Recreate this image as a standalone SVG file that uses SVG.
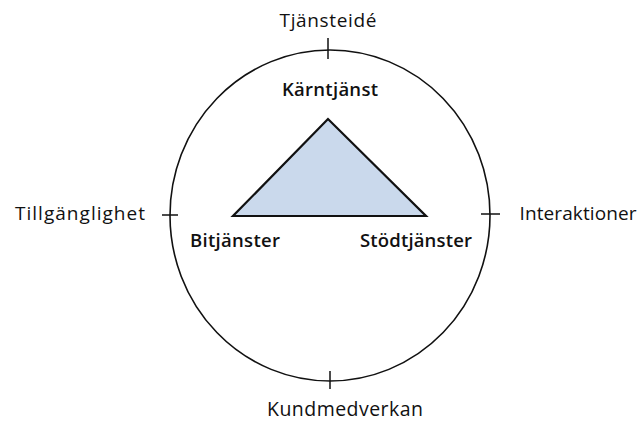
<svg xmlns="http://www.w3.org/2000/svg" width="639" height="421" viewBox="0 0 639 421">
<style>
text{font-family:"Open Sans","DejaVu Sans",sans-serif;font-size:19px;fill:#111;text-anchor:middle}
.in{font-weight:600;font-size:18.5px}
.tick{stroke:#111;stroke-width:1.5;fill:none}
</style>
<rect width="639" height="421" fill="#fff"/>
<g id="circle">
<ellipse cx="330" cy="215.5" rx="160" ry="165.5" fill="none" stroke="#111" stroke-width="1.6"/>
</g>
<g id="connectors">
<line class="tick" x1="328" y1="38" x2="328" y2="59"/>
<line class="tick" x1="330" y1="371" x2="330" y2="389"/>
<line class="tick" x1="162" y1="215" x2="178" y2="215"/>
<line class="tick" x1="481" y1="214" x2="500" y2="214"/>
</g>
<g id="triangle">
<polygon points="328,119 233,216 426,216" fill="#cad9ec" stroke="#111" stroke-width="2.2" stroke-linejoin="miter"/>
</g>
<g id="tjansteide"><text x="328" y="27" textLength="97">Tjänsteidé</text></g>
<g id="karntjanst"><text class="in" x="330" y="96" textLength="96">Kärntjänst</text></g>
<g id="bitjanster"><text class="in" x="235" y="247" textLength="90">Bitjänster</text></g>
<g id="stodtjanster"><text class="in" x="416" y="247" textLength="112">Stödtjänster</text></g>
<g id="tillganglighet"><text x="80" y="220" textLength="130">Tillgänglighet</text></g>
<g id="interaktioner"><text x="578" y="220" textLength="117">Interaktioner</text></g>
<g id="kundmedverkan"><text x="345" y="416" textLength="156" style="font-size:19.5px">Kundmedverkan</text></g>
</svg>
